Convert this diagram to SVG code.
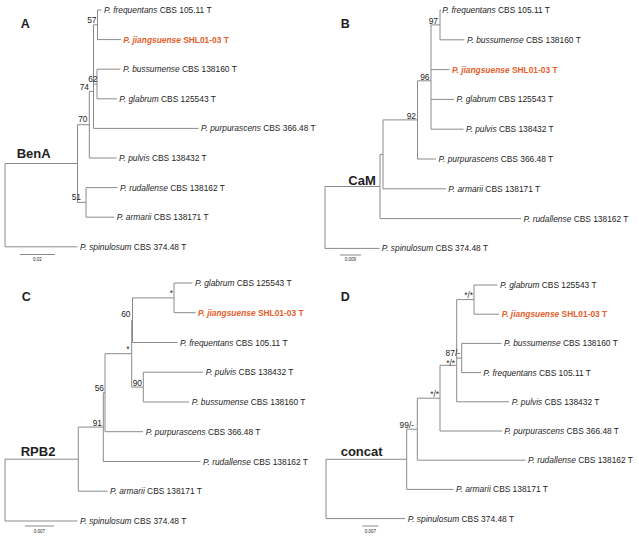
<svg xmlns="http://www.w3.org/2000/svg" width="639" height="537" viewBox="0 0 639 537">
<style>
text{font-family:"Liberation Sans",Arial,sans-serif;fill:#1e1e1e}
.t{font-size:8.4px}
.i{font-style:italic}
.j{fill:#e5602c;font-weight:bold}
.s{font-size:8.4px;text-anchor:end}
.pl{font-size:12.5px;font-weight:bold}
.gl{font-size:13px;font-weight:bold}
.sc{font-size:4.5px;text-anchor:middle}
.br{fill:none;stroke:#8a8a8a;stroke-width:1}
</style>
<rect width="639" height="537" fill="#fff"/>

<!-- Panel A -->
<g id="panelA">
<text class="pl" x="20.7" y="28.3">A</text>
<text class="gl" x="16.7" y="157.5">BenA</text>
<g class="br" id="A-connectors">
<path d="M97.5 10V39.6M97.5 10H101.5M97.5 39.6H121"/>
<path d="M97 69.2V98.8M97 69.2H120.5M97 98.8H117"/>
<path d="M93.5 24.8V128.4M93.5 24.8H97.5M93.5 84H97M93.5 128.4H198.5"/>
<path d="M89.3 91.4V158M89.3 91.4H93.5M89.3 158H116.5"/>
<path d="M86 187.6V217.2M86 187.6H117.5M86 217.2H114"/>
<path d="M77.5 124.7V202.4M77.5 124.7H89.3M77.5 202.4H86"/>
<path d="M5 163.5V246.8M5 163.5H77.5M5 246.8H77.5"/>
<path d="M20 254.5H55"/>
</g>
<g id="A-support">
<text class="s" x="96.5" y="23">57</text>
<text class="s" x="97.5" y="82">62</text>
<text class="s" x="89" y="89.5">74</text>
<text class="s" x="87.5" y="121.5">70</text>
<text class="s" x="81" y="199.5">51</text>
</g>
<g id="A-frequentans"><text class="t" x="104" y="13"><tspan class="i">P. frequentans</tspan> CBS 105.11 T</text></g>
<g id="A-jiangsuense"><text class="t j" x="123.3" y="42.6"><tspan class="i">P. jiangsuense</tspan> SHL01-03 T</text></g>
<g id="A-bussumense"><text class="t" x="123" y="72.2"><tspan class="i">P. bussumense</tspan> CBS 138160 T</text></g>
<g id="A-glabrum"><text class="t" x="119.3" y="101.8"><tspan class="i">P. glabrum</tspan> CBS 125543 T</text></g>
<g id="A-purpurascens"><text class="t" x="201" y="131.4"><tspan class="i">P. purpurascens</tspan> CBS 366.48 T</text></g>
<g id="A-pulvis"><text class="t" x="119" y="161"><tspan class="i">P. pulvis</tspan> CBS 138432 T</text></g>
<g id="A-rudallense"><text class="t" x="120" y="190.6"><tspan class="i">P. rudallense</tspan> CBS 138162 T</text></g>
<g id="A-armarii"><text class="t" x="116.7" y="220.2"><tspan class="i">P. armarii</tspan> CBS 138171 T</text></g>
<g id="A-spinulosum"><text class="t" x="80" y="249.8"><tspan class="i">P. spinulosum</tspan> CBS 374.48 T</text></g>
<text class="sc" x="37.5" y="260.5">0.02</text>
</g>

<!-- Panel B -->
<g id="panelB">
<text class="pl" x="340.7" y="28.3">B</text>
<text class="gl" x="348.3" y="184.5">CaM</text>
<g class="br" id="B-connectors">
<path d="M440 10V39.8M440 10H441M440 39.8H464.5"/>
<path d="M431 24.9V129.2M431 24.9H440M431 69.6H449.5M431 99.4H454M431 129.2H463.5"/>
<path d="M417.5 80.8V159M417.5 80.8H431M417.5 159H436"/>
<path d="M383 119.9V188.8M383 119.9H417.5M383 188.8H446"/>
<path d="M380 154.4V218.6M380 154.4H383M380 218.6H521"/>
<path d="M325 186.5V248.4M325 186.5H380M325 248.4H379.5"/>
<path d="M340 255H361"/>
</g>
<g id="B-support">
<text class="s" x="438" y="23.5">97</text>
<text class="s" x="429.5" y="79.5">96</text>
<text class="s" x="416" y="118.5">92</text>
</g>
<g id="B-frequentans"><text class="t" x="442.3" y="13"><tspan class="i">P. frequentans</tspan> CBS 105.11 T</text></g>
<g id="B-bussumense"><text class="t" x="467" y="42.8"><tspan class="i">P. bussumense</tspan> CBS 138160 T</text></g>
<g id="B-jiangsuense"><text class="t j" x="452" y="72.6"><tspan class="i">P. jiangsuense</tspan> SHL01-03 T</text></g>
<g id="B-glabrum"><text class="t" x="456.5" y="102.4"><tspan class="i">P. glabrum</tspan> CBS 125543 T</text></g>
<g id="B-pulvis"><text class="t" x="466" y="132.2"><tspan class="i">P. pulvis</tspan> CBS 138432 T</text></g>
<g id="B-purpurascens"><text class="t" x="438.5" y="162"><tspan class="i">P. purpurascens</tspan> CBS 366.48 T</text></g>
<g id="B-armarii"><text class="t" x="448.3" y="191.8"><tspan class="i">P. armarii</tspan> CBS 138171 T</text></g>
<g id="B-rudallense"><text class="t" x="523.5" y="221.6"><tspan class="i">P. rudallense</tspan> CBS 138162 T</text></g>
<g id="B-spinulosum"><text class="t" x="381.7" y="251.4"><tspan class="i">P. spinulosum</tspan> CBS 374.48 T</text></g>
<text class="sc" x="350.5" y="260.5">0.009</text>
</g>

<!-- Panel C -->
<g id="panelC">
<text class="pl" x="21.7" y="301">C</text>
<text class="gl" x="20.7" y="456">RPB2</text>
<g class="br" id="C-connectors">
<path d="M174 283V312.7M174 283H192.5M174 312.7H195.5"/>
<path d="M132.5 297.9V342.5M132.5 297.9H174M132.5 342.5H177.5"/>
<path d="M143.3 372.2V402M143.3 372.2H203M143.3 402H189"/>
<path d="M131.7 320.2V387.1M131.7 320.2H132.5M131.7 387.1H143.3"/>
<path d="M105 353.7V431.7M105 353.7H131.7M105 431.7H143"/>
<path d="M103.3 392.7V461.5M103.3 392.7H105M103.3 461.5H200.5"/>
<path d="M78.3 427.1V491.2M78.3 427.1H103.3M78.3 491.2H107.5"/>
<path d="M5 459.2V521M5 459.2H78.3M5 521H77.5"/>
<path d="M25 526H54"/>
</g>
<g id="C-support">
<text class="s" x="173" y="295.5">*</text>
<text class="s" x="130.5" y="317">60</text>
<text class="s" x="129.5" y="351.5">*</text>
<text class="s" x="142" y="385.7">90</text>
<text class="s" x="104" y="391.3">56</text>
<text class="s" x="102" y="425.5">91</text>
</g>
<g id="C-glabrum"><text class="t" x="195" y="286"><tspan class="i">P. glabrum</tspan> CBS 125543 T</text></g>
<g id="C-jiangsuense"><text class="t j" x="198" y="315.7"><tspan class="i">P. jiangsuense</tspan> SHL01-03 T</text></g>
<g id="C-frequentans"><text class="t" x="180" y="345.5"><tspan class="i">P. frequentans</tspan> CBS 105.11 T</text></g>
<g id="C-pulvis"><text class="t" x="205.7" y="375.2"><tspan class="i">P. pulvis</tspan> CBS 138432 T</text></g>
<g id="C-bussumense"><text class="t" x="191.7" y="405"><tspan class="i">P. bussumense</tspan> CBS 138160 T</text></g>
<g id="C-purpurascens"><text class="t" x="145.7" y="434.7"><tspan class="i">P. purpurascens</tspan> CBS 366.48 T</text></g>
<g id="C-rudallense"><text class="t" x="203" y="464.5"><tspan class="i">P. rudallense</tspan> CBS 138162 T</text></g>
<g id="C-armarii"><text class="t" x="110" y="494.2"><tspan class="i">P. armarii</tspan> CBS 138171 T</text></g>
<g id="C-spinulosum"><text class="t" x="80" y="524"><tspan class="i">P. spinulosum</tspan> CBS 374.48 T</text></g>
<text class="sc" x="39.5" y="532.5">0.007</text>
</g>

<!-- Panel D -->
<g id="panelD">
<text class="pl" x="340.7" y="301">D</text>
<text class="gl" x="340.7" y="456">concat</text>
<g class="br" id="D-connectors">
<path d="M474 285V314.2M474 285H497.5M474 314.2H499"/>
<path d="M461.7 343.4V372.6M461.7 343.4H501.5M461.7 372.6H481"/>
<path d="M456.7 299.6V401.8M456.7 299.6H474M456.7 358H461.7M456.7 401.8H509"/>
<path d="M440 365.3V431M440 365.3H456.7M440 431H502"/>
<path d="M417.3 398.2V460.2M417.3 398.2H440M417.3 460.2H525.5"/>
<path d="M406.7 429.2V489.4M406.7 429.2H417.3M406.7 489.4H453.5"/>
<path d="M326 459.3V518.6M326 459.3H406.7M326 518.6H405"/>
<path d="M362.3 526H378.3"/>
</g>
<g id="D-support">
<text class="s" x="473" y="297.5">*/*</text>
<text class="s" x="460" y="355.5">87/-</text>
<text class="s" x="455" y="365.5">*/*</text>
<text class="s" x="439" y="396.5">*/*</text>
<text class="s" x="414" y="428">99/-</text>
</g>
<g id="D-glabrum"><text class="t" x="500" y="288"><tspan class="i">P. glabrum</tspan> CBS 125543 T</text></g>
<g id="D-jiangsuense"><text class="t j" x="501.7" y="317.2"><tspan class="i">P. jiangsuense</tspan> SHL01-03 T</text></g>
<g id="D-bussumense"><text class="t" x="504" y="346.4"><tspan class="i">P. bussumense</tspan> CBS 138160 T</text></g>
<g id="D-frequentans"><text class="t" x="483.3" y="375.6"><tspan class="i">P. frequentans</tspan> CBS 105.11 T</text></g>
<g id="D-pulvis"><text class="t" x="511.7" y="404.8"><tspan class="i">P. pulvis</tspan> CBS 138432 T</text></g>
<g id="D-purpurascens"><text class="t" x="504.3" y="434"><tspan class="i">P. purpurascens</tspan> CBS 366.48 T</text></g>
<g id="D-rudallense"><text class="t" x="528" y="463.2"><tspan class="i">P. rudallense</tspan> CBS 138162 T</text></g>
<g id="D-armarii"><text class="t" x="456" y="492.4"><tspan class="i">P. armarii</tspan> CBS 138171 T</text></g>
<g id="D-spinulosum"><text class="t" x="407.7" y="521.6"><tspan class="i">P. spinulosum</tspan> CBS 374.48 T</text></g>
<text class="sc" x="370.3" y="532.5">0.007</text>
</g>
</svg>
